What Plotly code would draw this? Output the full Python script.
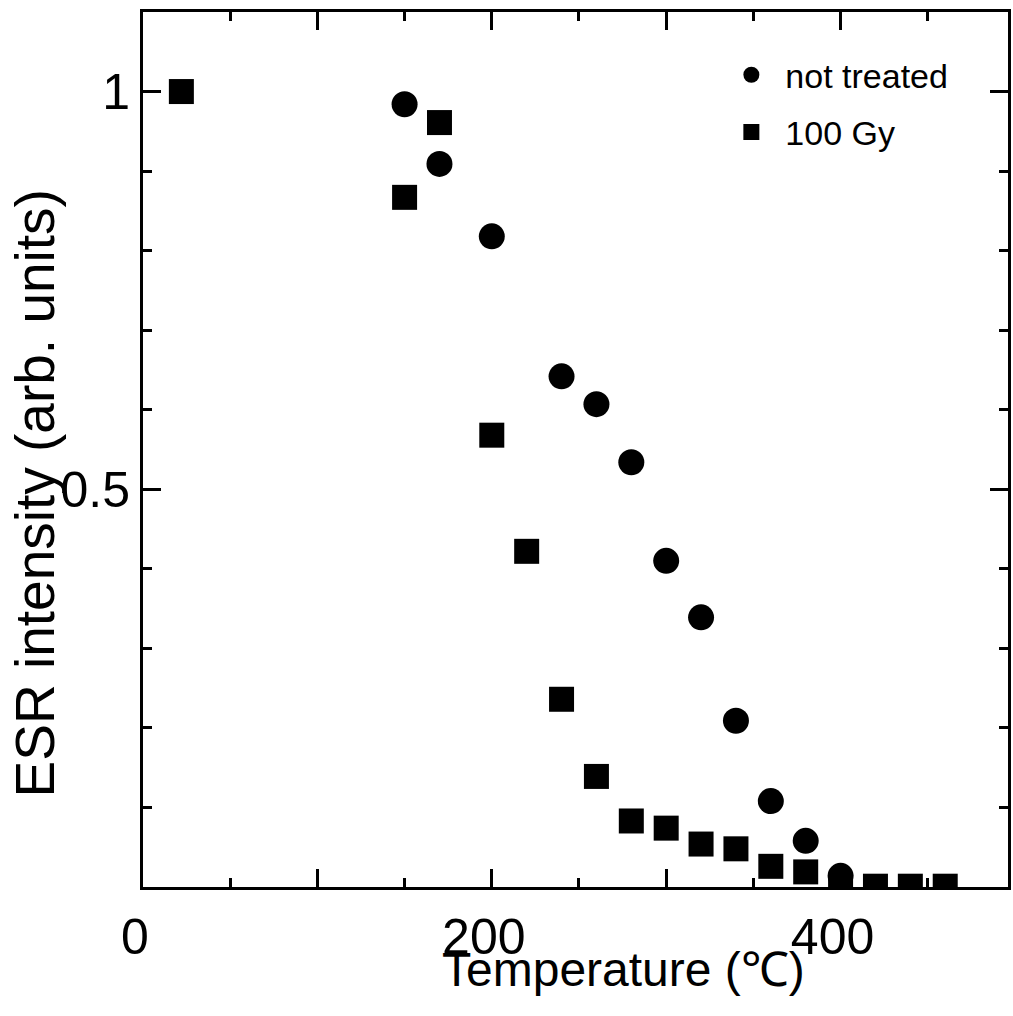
import plotly.graph_objects as go

# Data
temp_not_treated = [150, 170, 200, 240, 260, 280, 300, 320, 340, 360, 380, 400]
esr_not_treated = [0.984, 0.909, 0.818, 0.642, 0.607, 0.534, 0.410, 0.339, 0.209, 0.108, 0.058, 0.014]

temp_100gy = [22, 150, 170, 200, 220, 240, 260, 280, 300, 320, 340, 360, 380, 400, 420, 440, 460]
esr_100gy = [1.0, 0.867, 0.961, 0.568, 0.422, 0.236, 0.139, 0.083, 0.074, 0.054, 0.048, 0.026, 0.019, 0.001, 0.001, 0.001, 0.001]

x_tickvals = [0, 100, 200, 300, 400]
x_ticktext = ["0", "", "200", "", "400"]
y_tickvals = [0, 0.5, 1]
y_ticktext = ["", "0.5", "1"]

FONT = "Liberation Sans, Arial, Helvetica, sans-serif"

fig = go.Figure()
fig.add_trace(go.Scatter(
    x=temp_not_treated, y=esr_not_treated, mode="markers", name="not treated",
    legendgroup="a",
    marker=dict(symbol="circle", size=26, color="black", line=dict(width=0)),
))
fig.add_trace(go.Scatter(
    x=temp_100gy, y=esr_100gy, mode="markers", name="100 Gy",
    legendgroup="b",
    marker=dict(symbol="square", size=25, color="black", line=dict(width=0)),
))

axis_common = dict(
    showgrid=False, zeroline=False, showline=True, linecolor="black", linewidth=3,
    mirror="allticks", ticks="inside", tickcolor="black", tickwidth=2.5, ticklen=18,
    tickfont=dict(family=FONT, size=50, color="black"),
)

fig.update_xaxes(
    range=[0, 496], tickmode="array", tickvals=x_tickvals, ticktext=x_ticktext,
    minor=dict(dtick=50, ticks="inside", ticklen=9, tickwidth=2.5, tickcolor="black", showgrid=False),
    ticklabelshift=-8, ticklabelstandoff=4,
    **axis_common,
)
fig.update_yaxes(
    range=[0, 1.1], tickmode="array", tickvals=y_tickvals, ticktext=y_ticktext,
    minor=dict(dtick=0.1, ticks="inside", ticklen=9, tickwidth=2.5, tickcolor="black", showgrid=False),
    **axis_common,
)

fig.add_annotation(
    text="ESR intensity (arb. units)", xref="paper", yref="paper",
    x=-0.1244, y=0.4503, xanchor="center", yanchor="middle", textangle=-90,
    showarrow=False, font=dict(family=FONT, size=55, color="black"),
)
fig.add_annotation(
    text="Temperature (℃)", xref="paper", yref="paper",
    x=0.556, y=-0.094, xanchor="center", yanchor="middle",
    showarrow=False, font=dict(family=FONT, size=48, color="black"),
)

fig.update_layout(
    width=1013, height=1016,
    margin=dict(l=143, r=2, t=12, b=129),
    plot_bgcolor="white", paper_bgcolor="white",
    showlegend=True,
    legend=dict(
        x=0.664, y=0.961, xanchor="left", yanchor="top",
        font=dict(family=FONT, size=34, color="black"),
        bgcolor="rgba(0,0,0,0)", tracegroupgap=10, itemwidth=58,
    ),
)

fig.write_html("out.html")
